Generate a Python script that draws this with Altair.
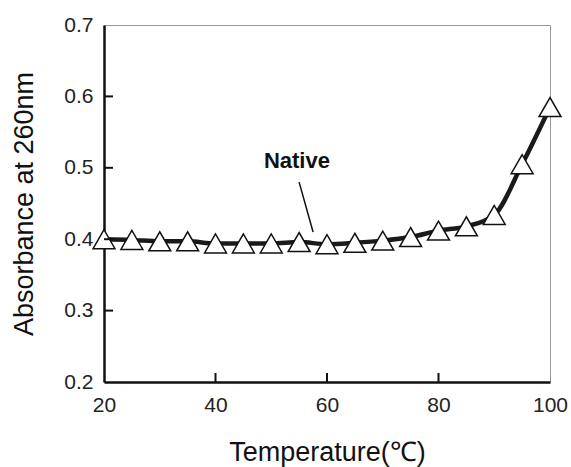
import altair as alt
import pandas as pd

temps = [20, 25, 30, 35, 40, 45, 50, 55, 60, 65, 70, 75, 80, 85, 90, 95, 100]
absorb = [0.400, 0.399, 0.397, 0.397, 0.394, 0.394, 0.394, 0.396, 0.393, 0.395,
          0.398, 0.403, 0.412, 0.418, 0.434, 0.505, 0.585]

x_ticks = [20, 40, 60, 80, 100]
y_ticks = [0.2, 0.3, 0.4, 0.5, 0.6, 0.7]
x_inner_ticks = [40, 60, 80]
y_inner_ticks = [0.3, 0.4, 0.5, 0.6]

label_text = ["Native"]
label_x = [54.6]
label_y = [0.51]
leader_x = [55.0]
leader_y = [0.480]
leader_x2 = [57.5]
leader_y2 = [0.410]

W, H = 446, 357
FONT = "Liberation Sans"

df = pd.DataFrame({"t": temps, "a": absorb})
xs = alt.Scale(domain=[20, 100], nice=False)
ys = alt.Scale(domain=[0.2, 0.7], nice=False, zero=False)

x_enc = alt.X("t:Q", scale=xs, axis=alt.Axis(
    values=x_ticks, tickSize=0, labelPadding=12, labelFontSize=21, labelColor="#222",
    labelFont=FONT, labelFlush=False, labelOverlap=False,
    domainColor="#111", domainWidth=2.5, grid=False,
    title="Temperature(℃)", titleFont=FONT, titleFontSize=27, titleFontWeight="normal",
    titleColor="#111", titleY=70, titleBaseline="middle"))
y_enc = alt.Y("a:Q", scale=ys, axis=alt.Axis(
    values=y_ticks, format=".1f", tickSize=0, labelPadding=11, labelFontSize=21,
    labelColor="#222", labelFont=FONT, labelFlush=False, labelOverlap=False,
    domainColor="#111", domainWidth=2.5, grid=False,
    title="Absorbance at 260nm", titleFont=FONT, titleFontSize=27,
    titleFontWeight="normal", titleColor="#111", titleX=-80, titleY=H / 2,
    titleBaseline="middle"))

line = alt.Chart(df).mark_line(color="#1a1a1a", strokeWidth=4.5, interpolate="monotone").encode(
    x=x_enc, y=y_enc)
pts = alt.Chart(df).mark_point(shape="triangle-up", filled=True, fill="white",
                               stroke="#111", strokeWidth=1.5, size=480, opacity=1).encode(
    x="t:Q", y="a:Q")

ytick_df = pd.DataFrame({"v": y_inner_ticks})
ytk = alt.Chart(ytick_df).mark_rule(color="#111", strokeWidth=2).encode(
    y=alt.Y("v:Q", scale=ys), x=alt.value(0), x2=alt.value(9))
xtick_df = pd.DataFrame({"v": x_inner_ticks})
xtk = alt.Chart(xtick_df).mark_rule(color="#111", strokeWidth=2).encode(
    x=alt.X("v:Q", scale=xs), y=alt.value(H), y2=alt.value(H - 9))

lab_df = pd.DataFrame({"txt": label_text, "x": label_x, "y": label_y})
lab = alt.Chart(lab_df).mark_text(font=FONT, fontSize=22, fontWeight="bold", color="#111",
                                  align="center", baseline="middle").encode(
    x=alt.X("x:Q", scale=xs), y=alt.Y("y:Q", scale=ys), text="txt:N")
ld_df = pd.DataFrame({"x": leader_x, "y": leader_y, "x2": leader_x2, "y2": leader_y2})
ld = alt.Chart(ld_df).mark_rule(color="#111", strokeWidth=1.5).encode(
    x=alt.X("x:Q", scale=xs), y=alt.Y("y:Q", scale=ys), x2="x2:Q", y2="y2:Q")

chart = alt.layer(line, pts, ytk, xtk, ld, lab).properties(
    width=W, height=H, background="white",
    autosize=alt.AutoSizeParams(type="none"),
    padding={"left": 104, "top": 25, "right": 21, "bottom": 85},
).configure_view(stroke="#999", strokeWidth=1)

chart.save("out.html", embed_options={"renderer": "svg", "actions": False})
